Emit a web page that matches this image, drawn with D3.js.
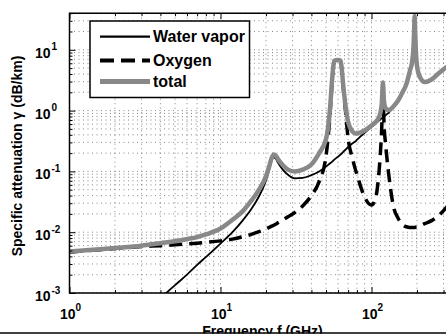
<!DOCTYPE html>
<html>
<head>
<meta charset="utf-8">
<script src="https://cdn.jsdelivr.net/npm/d3@7"></script>
<style>
  body { margin: 0; background: #fff; }
  svg { display: block; }
  text { font-family: "Liberation Sans", Arial, sans-serif; font-weight: bold; fill: #000; }
</style>
</head>
<body>
<div id="chart"></div>
<script>
// frequencies (GHz) and specific attenuation (dB/km)
const freq = [1, 1.5, 2, 3, 4, 5, 6, 7, 8, 10,
  12, 14, 16, 18, 20, 21, 21.7, 22.5, 23.3, 24, 26, 28,
  31, 35, 40, 45, 50, 53, 55, 56.5, 60, 62.5,
  65, 67, 70, 75, 78, 80, 85, 90, 100, 106,
  110, 114, 117, 119, 121, 124, 130, 140, 150, 160,
  170, 180, 186, 190, 191.5, 193, 194.5, 196, 200, 210, 225, 250,
  280, 320, 350];

const waterVapor = [4.0e-5, 9e-5, 1.7e-4, 4.2e-4, 8.2e-4, 1.35e-3, 2.0e-3, 2.9e-3, 3.9e-3, 6.5e-3,
  1.0e-2, 1.55e-2, 2.4e-2, 3.9e-2, 7.0e-2, 0.105, 0.145, 0.17, 0.16, 0.14, 0.105, 0.088,
  0.077, 0.078, 0.087, 0.10, 0.12, 0.135, 0.145, 0.155, 0.175, 0.19,
  0.21, 0.225, 0.25, 0.29, 0.31, 0.33, 0.38, 0.43, 0.54, 0.61,
  0.66, 0.71, 0.75, 0.78, 0.80, 0.84, 0.93, 1.15, 1.45, 1.95,
  2.7, 4.5, 6.4, 12, 20, 35, 20, 12, 5.4, 3.4, 2.9, 3.2,
  4.1, 5.3, 6.1];

const oxygen = [0.0047, 0.0051, 0.0054, 0.0058, 0.006, 0.0062, 0.0064, 0.0066, 0.0068, 0.0072,
  0.0077, 0.0084, 0.0092, 0.0102, 0.0113, 0.012, 0.0125, 0.013, 0.0136, 0.0143, 0.016, 0.018,
  0.021, 0.027, 0.04, 0.068, 0.18, 0.8, 3.2, 6.3, 6.6, 6.3,
  2.4, 1.1, 0.35, 0.16, 0.11, 0.09, 0.055, 0.038, 0.028, 0.035,
  0.06, 0.17, 0.55, 2.0, 0.6, 0.28, 0.09, 0.026, 0.017, 0.0135,
  0.0123, 0.012, 0.012, 0.012, 0.012, 0.012, 0.012, 0.0121, 0.0122, 0.0127, 0.0138, 0.0155,
  0.019, 0.027, 0.034];

const total = [0.0048, 0.0052, 0.0055, 0.006, 0.0066, 0.0071, 0.0077, 0.0083, 0.0092, 0.0115,
  0.016, 0.022, 0.033, 0.05, 0.083, 0.12, 0.16, 0.19, 0.18, 0.16, 0.125, 0.107,
  0.10, 0.107, 0.13, 0.2, 0.34, 1.0, 3.5, 6.6, 6.8, 6.6,
  2.6, 1.3, 0.65, 0.45, 0.42, 0.42, 0.44, 0.47, 0.57, 0.64,
  0.72, 0.88, 1.3, 2.9, 1.4, 1.1, 1.02, 1.18, 1.47, 1.97,
  2.7, 4.6, 6.5, 12, 20, 36, 20, 12, 5.5, 3.5, 2.95, 3.25,
  4.15, 5.35, 6.15];

const xTickValues = [1, 10, 100];
const xTickExp = ["0", "1", "2"];
const yTickValues = [1e-3, 1e-2, 1e-1, 1, 10];
const yTickExp = ["-3", "-2", "-1", "0", "1"];
const legendLabels = ["Water vapor", "Oxygen", "total"];

const W = 446, H = 335;
const plotLeft = 69.5, plotTop = 13.2, plotBottom = 293;
const plotRight = plotLeft + 151 * Math.log10(360);

const x = d3.scaleLog().domain([1, 360]).range([plotLeft, plotRight]);
const y = d3.scaleLog().domain([1e-3, 40]).range([plotBottom, plotTop]);

const svg = d3.select("#chart").append("svg")
    .attr("width", W)
    .attr("height", H);

svg.append("defs").append("clipPath").attr("id", "plot")
  .append("rect")
    .attr("x", plotLeft).attr("y", plotTop)
    .attr("width", plotRight - plotLeft).attr("height", plotBottom - plotTop);

// dotted grid (major + minor)
const grid = svg.append("g")
    .attr("stroke", "#555")
    .attr("stroke-width", 0.7)
    .attr("stroke-dasharray", "1,3.5");

grid.selectAll(".gx").data(x.ticks()).enter().append("line")
    .attr("x1", d => x(d)).attr("x2", d => x(d))
    .attr("y1", plotTop).attr("y2", plotBottom);

grid.selectAll(".gy").data(y.ticks()).enter().append("line")
    .attr("x1", plotLeft).attr("x2", plotRight)
    .attr("y1", d => y(d)).attr("y2", d => y(d));

// curves
const line = d3.line()
    .x(d => x(d[0]))
    .y(d => y(d[1]))
    .curve(d3.curveMonotoneX);

const plot = svg.append("g").attr("clip-path", "url(#plot)");

plot.append("path")
    .datum(freq.map((f, i) => [f, waterVapor[i]]))
    .attr("d", line)
    .attr("fill", "none")
    .attr("stroke", "#000")
    .attr("stroke-width", 1.8);

plot.append("path")
    .datum(freq.map((f, i) => [f, oxygen[i]]))
    .attr("d", line)
    .attr("fill", "none")
    .attr("stroke", "#000")
    .attr("stroke-width", 3.5)
    .attr("stroke-dasharray", "13,7");

plot.append("path")
    .datum(freq.map((f, i) => [f, total[i]]))
    .attr("d", line)
    .attr("fill", "none")
    .attr("stroke", "#888")
    .attr("stroke-width", 4.5)
    .attr("stroke-linejoin", "round");

// axes: inward ticks, major longer than minor
const tickStyle = g => {
    g.select(".domain").remove();
    g.selectAll("text").remove();
    g.selectAll("line").attr("stroke", "#000").attr("stroke-width", 1);
};
const isMajor = d => Math.abs(Math.log10(d) - Math.round(Math.log10(d))) < 1e-9;

svg.append("g").attr("transform", `translate(0,${plotBottom})`)
    .call(d3.axisBottom(x).tickValues(x.ticks().filter(d => !isMajor(d))).tickSize(-3)).call(tickStyle);
svg.append("g").attr("transform", `translate(0,${plotBottom})`)
    .call(d3.axisBottom(x).tickValues(x.ticks().filter(isMajor)).tickSize(-6)).call(tickStyle);
svg.append("g").attr("transform", `translate(0,${plotTop})`)
    .call(d3.axisTop(x).tickValues(x.ticks().filter(d => !isMajor(d))).tickSize(-3)).call(tickStyle);
svg.append("g").attr("transform", `translate(0,${plotTop})`)
    .call(d3.axisTop(x).tickValues(x.ticks().filter(isMajor)).tickSize(-6)).call(tickStyle);
svg.append("g").attr("transform", `translate(${plotLeft},0)`)
    .call(d3.axisLeft(y).tickValues(y.ticks().filter(d => !isMajor(d))).tickSize(-3)).call(tickStyle);
svg.append("g").attr("transform", `translate(${plotLeft},0)`)
    .call(d3.axisLeft(y).tickValues(y.ticks().filter(isMajor)).tickSize(-6)).call(tickStyle);

// box
svg.append("path")
    .attr("d", `M${plotRight},${plotTop}H${plotLeft}V${plotBottom}H${plotRight}`)
    .attr("fill", "none")
    .attr("stroke", "#000")
    .attr("stroke-width", 1.5);

// tick labels, 10^n style
xTickValues.forEach((v, i) => {
    const t = svg.append("text")
        .attr("x", x(v) + 1)
        .attr("y", 318.5)
        .attr("text-anchor", "middle")
        .attr("font-size", 14);
    t.append("tspan").text("10");
    t.append("tspan").attr("dy", -8).attr("font-size", 10).text(xTickExp[i]);
});

yTickValues.forEach((v, i) => {
    svg.append("text")
        .attr("x", 50.5)
        .attr("y", y(v) + 8)
        .attr("text-anchor", "end")
        .attr("font-size", 14)
        .text("10");
    svg.append("text")
        .attr("x", 51.5)
        .attr("y", y(v) + 0.5)
        .attr("font-size", 10)
        .text(yTickExp[i]);
});

// axis titles
svg.append("text")
    .attr("transform", "translate(22,156) rotate(-90)")
    .attr("text-anchor", "middle")
    .attr("font-size", 14)
    .text("Specific attenuation \u03b3 (dB/km)");

svg.append("text")
    .attr("x", 262.5)
    .attr("y", 336)
    .attr("text-anchor", "middle")
    .attr("font-size", 14)
    .text("Frequency f (GHz)");

svg.append("rect")
    .attr("x", 0).attr("y", 333.5)
    .attr("width", W).attr("height", 2)
    .attr("fill", "#fff");
svg.append("line")
    .attr("x1", 0).attr("x2", W)
    .attr("y1", 333).attr("y2", 333)
    .attr("stroke", "#000")
    .attr("stroke-width", 1.3);

// legend
const legend = svg.append("g");
legend.append("rect")
    .attr("x", 90).attr("y", 21)
    .attr("width", 159.5).attr("height", 76.5)
    .attr("fill", "#fff")
    .attr("stroke", "#000")
    .attr("stroke-width", 1.5);

const legendY = [36.7, 60.5, 81.5];
const legendStroke = ["#000", "#000", "#888"];
const legendWidth = [2.2, 4, 5];
const legendDash = [null, "14,7", null];

legendLabels.forEach((label, i) => {
    legend.append("line")
        .attr("x1", 100).attr("x2", 150)
        .attr("y1", legendY[i]).attr("y2", legendY[i])
        .attr("stroke", legendStroke[i])
        .attr("stroke-width", legendWidth[i])
        .attr("stroke-dasharray", legendDash[i]);
    legend.append("text")
        .attr("x", 153)
        .attr("y", legendY[i] + 5.5)
        .attr("font-size", 16)
        .text(label);
});
</script>
</body>
</html>
